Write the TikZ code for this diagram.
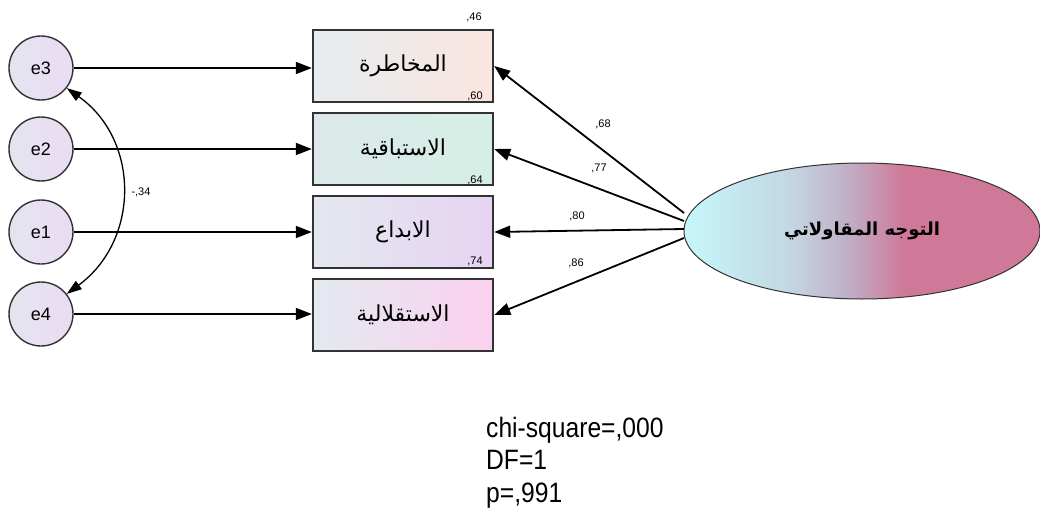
\documentclass[tikz,border=0pt]{standalone}
\usepackage{fontspec}
\setmainfont{Liberation Sans}
\newfontfamily\arabicfont[Script=Arabic]{DejaVu Sans}
\TeXXeTstate=1
\usetikzlibrary{arrows.meta,shapes.geometric}
\definecolor{bordc}{HTML}{333333}
\definecolor{ecyan}{HTML}{C6F7FA}
\definecolor{emid}{HTML}{C0AFC6}
\definecolor{epink}{HTML}{D07898}
\definecolor{b1l}{HTML}{E5ECEF}\definecolor{b1r}{HTML}{FBE5E0}
\definecolor{b2l}{HTML}{DCE8EA}\definecolor{b2r}{HTML}{D5EFE5}
\definecolor{b3l}{HTML}{E3E8EF}\definecolor{b3r}{HTML}{E7D3F2}
\definecolor{b4l}{HTML}{E3EAF0}\definecolor{b4r}{HTML}{FBD0EE}
\definecolor{cl}{HTML}{E4E4F0}\definecolor{cr}{HTML}{EBDCF2}
\pgfdeclarehorizontalshading{ellshade}{100bp}{color(0bp)=(ecyan); color(25bp)=(ecyan); color(40bp)=(ecyan!55!emid); color(48bp)=(emid); color(56bp)=(epink); color(100bp)=(epink)}
\tikzset{
  errnode/.style={circle, draw=bordc, line width=1.4pt, minimum size=64pt, inner sep=0pt,
    left color=cl, right color=cr, font=\fontsize{18}{18}\selectfont},
  obsbox/.style={rectangle, draw=bordc, line width=2.4pt, minimum width=180pt, minimum height=72pt,
    inner sep=0pt, font=\arabicfont\fontsize{22}{22}\selectfont},
  latent/.style={ellipse, draw=bordc, line width=1pt, minimum width=356pt, minimum height=136pt,
    shading=ellshade, inner sep=0pt, font=\arabicfont\bfseries\fontsize{18}{18}\selectfont},
  conn/.style={line width=1.8pt, -{Triangle[length=16pt,width=12pt]}},
  coef/.style={font=\fontsize{11}{11}\selectfont, inner sep=0pt},
}
\begin{document}
\begin{tikzpicture}[x=1pt,y=-1pt]
\path[use as bounding box, fill=white] (0,0) rectangle (1040,524);
% error terms
\node[errnode] (e3) at (41,68) {e3};
\node[errnode] (e2) at (41,149) {e2};
\node[errnode] (e1) at (41,232) {e1};
\node[errnode] (e4) at (41,314) {e4};
% observed variables
\node[obsbox, left color=b1l, right color=b1r] (b1) at (403,66) {\beginR المخاطرة\endR};
\node[obsbox, left color=b2l, right color=b2r] (b2) at (403,149) {\beginR الاستباقية\endR};
\node[obsbox, left color=b3l, right color=b3r] (b3) at (403,232) {\beginR الابداع\endR};
\node[obsbox, left color=b4l, right color=b4r] (b4) at (403,315) {\beginR الاستقلالية\endR};
% latent
\node[latent] (L) at (862,231) {\beginR التوجه المقاولاتي\endR};
% start points on ellipse
\coordinate (s1) at (684,213);
\coordinate (s2) at (684,221);
\coordinate (s3) at (684,229);
\coordinate (s4) at (684,238);
% connectors
\draw[conn] (e3.east) -- (e3.east -| b1.west);
\draw[conn] (e2.east) -- (e2.east -| b2.west);
\draw[conn] (e1.east) -- (e1.east -| b3.west);
\draw[conn] (e4.east) -- (e4.east -| b4.west);
\draw[conn] (s1) -- (b1.east);
\draw[conn] (s2) -- (b2.east);
\draw[conn] (s3) -- (b3.east);
\draw[conn] (s4) -- (b4.east);
\draw[line width=1.3pt, {Triangle[length=15pt,width=10pt]}-{Triangle[length=15pt,width=10pt]}]
  (e3.-38) .. controls (140,140) and (140,240) .. (e4.38);
% coefficients
\node[coef] (c46) at (474,17) {,46};
\node[coef] (c60) at (475,96) {,60};
\node[coef] (c64) at (475,180) {,64};
\node[coef] (c74) at (475,261) {,74};
\node[coef] (c68) at (603,124) {,68};
\node[coef] (c77) at (599,168) {,77};
\node[coef] (c80) at (577,216) {,80};
\node[coef] (c86) at (576,263) {,86};
\node[coef] (c34) at (141,192) {-,34};
% fit statistics
\node[anchor=north west, align=left, inner sep=0pt, font=\fontsize{28}{32.5}\selectfont] (fit) at (486,417)
  {\scalebox{0.88}[1]{chi-square=,000}\\ \scalebox{0.88}[1]{DF=1}\\ \scalebox{0.88}[1]{p=,991}};
\end{tikzpicture}
\end{document}
